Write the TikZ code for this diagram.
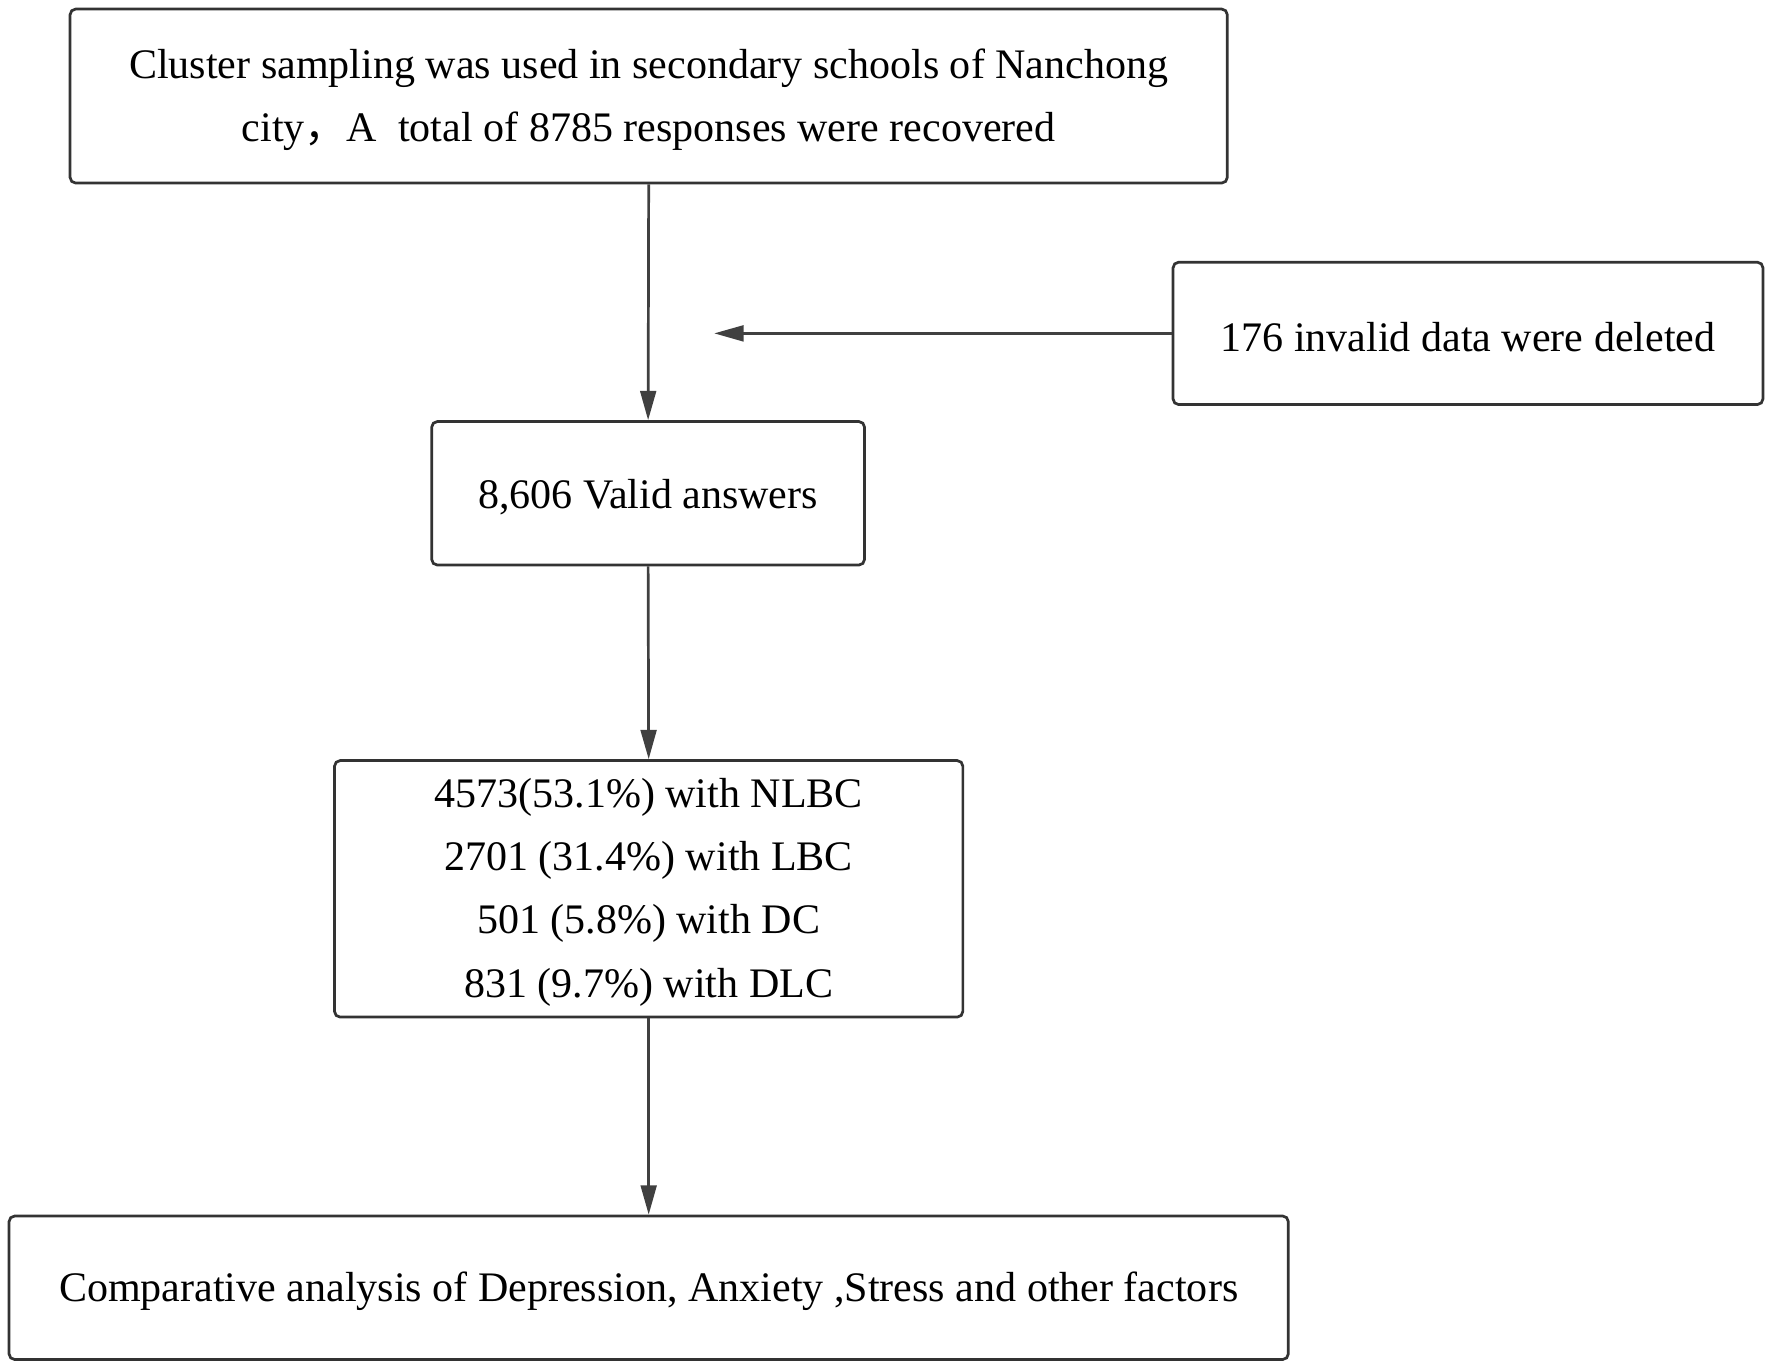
\documentclass[tikz,border=0pt]{standalone}
\usepackage{fontspec}
\setmainfont{Liberation Serif}
\newfontfamily\cjk{Noto Sans CJK SC}
\usetikzlibrary{arrows.meta}
\begin{document}
\begin{tikzpicture}[x=1pt,y=-1pt,
  box/.style={draw=black!80, line width=2.4pt, rounded corners=5pt, inner sep=0pt},
  txt/.style={font=\fontsize{37.2}{56}\selectfont, align=center, text=black, inner sep=0pt, yshift=-3pt},
  conn/.style={draw=black!75, line width=2.4pt, -{Triangle[length=26pt,width=14pt]}}]
\useasboundingbox (0,0) rectangle (1568,1212);
\node[box, minimum width=1024pt, minimum height=154pt,
  label={[txt]center:{Cluster sampling was used in secondary schools of Nanchong\\city{\cjk ，}A\ \ total of 8785 responses were recovered}}] (top) at (574,85) {};
\node[box, minimum width=522pt, minimum height=126pt,
  label={[txt]center:{176 invalid data were deleted}}] (del) at (1299,295) {};
\node[box, minimum width=383pt, minimum height=127pt,
  label={[txt]center:{8,606 Valid answers}}] (valid) at (573.5,436.5) {};
\node[box, minimum width=556pt, minimum height=227pt,
  label={[txt]center:{4573(53.1\%) with NLBC\\2701 (31.4\%) with LBC\\501 (5.8\%) with DC\\831 (9.7\%) with DLC}}] (groups) at (574,786.5) {};
\node[box, minimum width=1132pt, minimum height=127pt,
  label={[txt]center:{Comparative analysis of Depression, Anxiety ,Stress and other factors}}] (comp) at (574,1139.5) {};
\coordinate (mid) at (632,295);
\draw[conn] (top.south) -- (valid.north);
\draw[conn] (del.west) -- (mid);
\draw[conn] (valid.south) -- (groups.north);
\draw[conn] (groups.south) -- (comp.north);
\end{tikzpicture}
\end{document}
